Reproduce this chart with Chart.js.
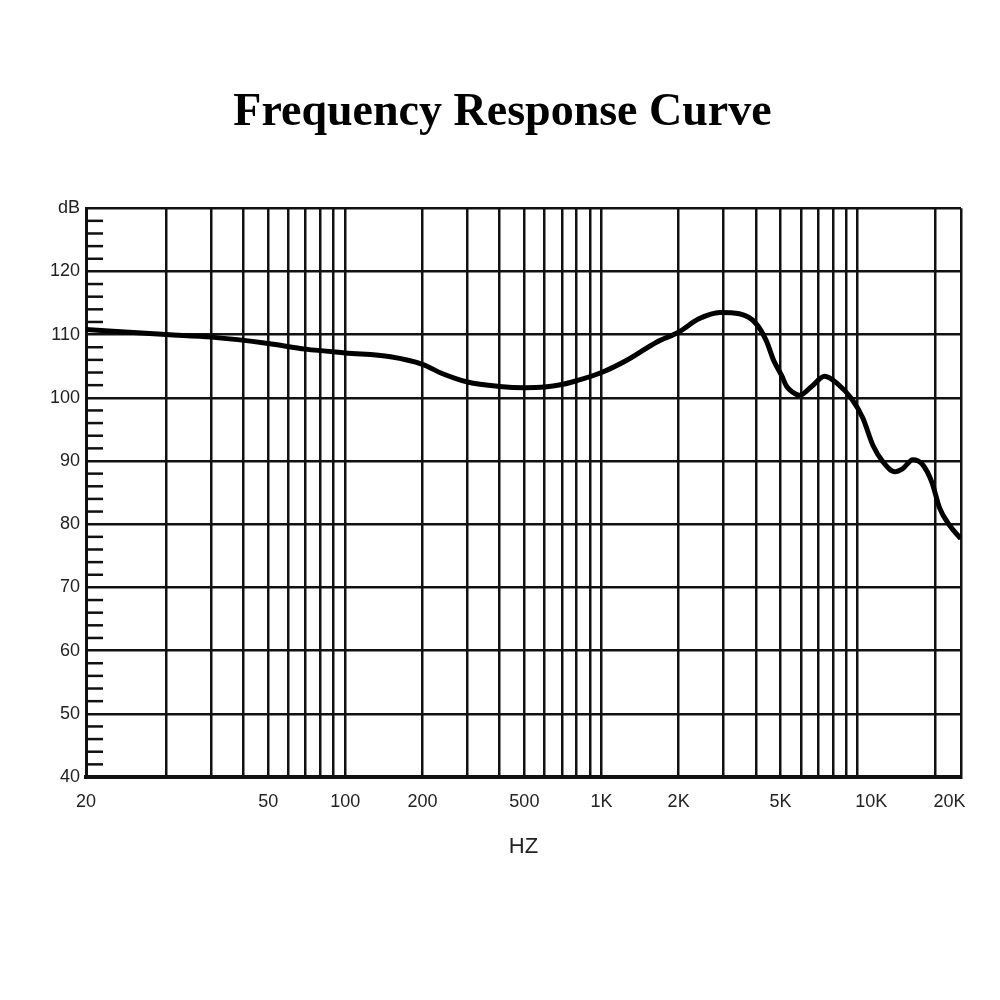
<!DOCTYPE html>
<html>
<head>
<meta charset="utf-8">
<script src="https://cdn.jsdelivr.net/npm/chart.js@4"></script>
<style>
html,body{margin:0;padding:0;background:#fff}
#wrap{width:1000px;height:1000px}
</style>
</head>
<body>
<div id="wrap"><canvas id="myChart"></canvas></div>
<script>
// frequency (Hz) and level (dB)
const freqs=[9.73,20,30,50,70,100,150,200,240,300,400,500,600,700,800,1000,1250,1640,2000,2400,2900,3450,4000,4400,4700,5050,5280,5570,5930,6610,7430,8350,9480,10470,11460,12530,13960,14990,16400,17950,19450,20900,22860,25250]
const levels=[110.8,110.0,109.6,108.6,107.7,107.1,106.5,105.3,103.8,102.5,101.8,101.6,101.7,102.1,102.7,104.0,105.9,108.8,110.4,112.5,113.5,113.3,111.8,109.0,105.9,103.5,101.8,100.9,100.4,101.8,103.4,102.2,99.8,96.8,92.5,89.9,88.3,88.8,90.2,89.4,86.7,82.5,79.8,77.7]

const xMin=9.73, xMax=25300
const xGridLines=[20,30,40,50,60,70,80,90,100,200,300,400,500,600,700,800,900,1000,2000,3000,4000,5000,6000,7000,8000,9000,10000,20000]
// where the printed frequency labels sit
const xLabelValues=[xMin,50,100,200,500,1000,2000,5000,11300,22800]
const xLabelTexts=['20','50','100','200','500','1K','2K','5K','10K','20K']
const yMin=40, yMax=130

const curve=freqs.map((f,i)=>({x:f,y:levels[i]}))

const minorTicks={
  id:'minorTicks',
  afterDatasetsDraw(chart){
    const ctx=chart.ctx, y=chart.scales.y, left=chart.chartArea.left
    ctx.save()
    ctx.strokeStyle='#111'
    ctx.lineWidth=2.5
    for(let v=yMin+2; v<yMax; v+=2){
      if(v%10===0) continue
      const py=y.getPixelForValue(v)
      ctx.beginPath()
      ctx.moveTo(left,py)
      ctx.lineTo(left+17,py)
      ctx.stroke()
    }
    ctx.restore()
  }
}

const labelOnly=v=>v===11300||v===22800

new Chart('myChart',{
  type:'line',
  data:{datasets:[{
    data:curve,
    borderColor:'#000',
    borderWidth:5,
    pointRadius:0,
    cubicInterpolationMode:'monotone',
    fill:false
  }]},
  options:{
    responsive:true,
    maintainAspectRatio:false,
    animation:false,
    layout:{padding:{left:44,right:39,top:0,bottom:140}},
    plugins:{
      legend:{display:false},
      tooltip:{enabled:false},
      title:{
        display:true,
        text:'Frequency Response Curve',
        color:'#000',
        font:{family:'Liberation Serif',size:46,weight:'bold'},
        padding:{top:86,bottom:67}
      }
    },
    scales:{
      x:{
        type:'logarithmic',
        min:xMin,
        max:xMax,
        afterBuildTicks(scale){
          scale.ticks=[xMin,...xGridLines,11300,22800,xMax].sort((a,b)=>a-b).map(v=>({value:v}))
        },
        grid:{
          drawTicks:false,
          lineWidth:2.5,
          color:ctx=>ctx.tick&&labelOnly(ctx.tick.value)?'rgba(0,0,0,0)':'#111'
        },
        border:{display:true,color:'#111',width:4},
        ticks:{
          autoSkip:false,
          maxRotation:0,
          padding:14,
          color:'#222',
          font:{family:'Liberation Sans',size:18},
          callback:function(value){
            const i=xLabelValues.indexOf(value)
            return i>=0?xLabelTexts[i]:''
          }
        },
        title:{
          display:true,
          text:'HZ',
          color:'#222',
          font:{family:'Liberation Sans',size:22},
          padding:{top:7,bottom:0}
        }
      },
      y:{
        min:yMin,
        max:yMax,
        grid:{drawTicks:false,lineWidth:2.5,color:'#111'},
        border:{display:true,color:'#111',width:3},
        ticks:{
          stepSize:10,
          padding:6,
          color:'#222',
          font:{family:'Liberation Sans',size:18},
          callback:v=>v===yMax?'dB':v
        }
      }
    }
  },
  plugins:[minorTicks]
})
</script>
</body>
</html>
